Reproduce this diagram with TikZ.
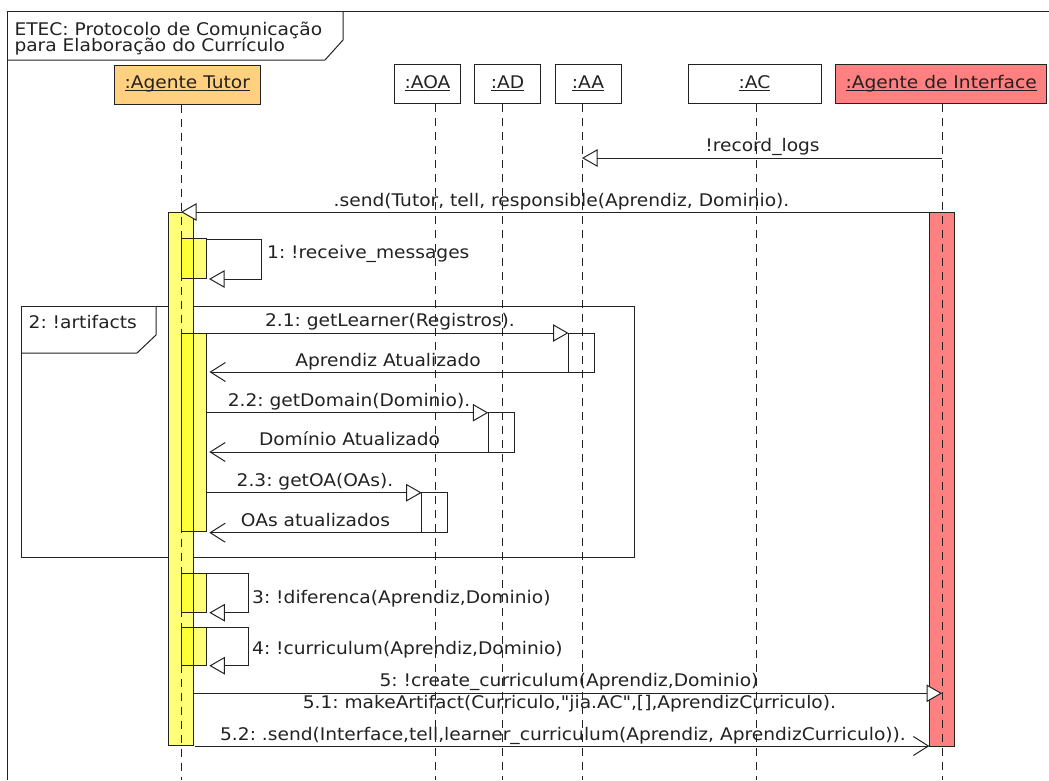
\documentclass[tikz,border=0pt]{standalone}
\usepackage{fontspec}
\setmainfont{DejaVu Sans}[FakeStretch=1.07]
\newfontfamily\plainf{DejaVu Sans}[FakeStretch=1.07]
\usetikzlibrary{arrows.meta}
\definecolor{tutorhead}{HTML}{FFD080}
\definecolor{ifhead}{HTML}{FF8080}
\definecolor{yelA}{HTML}{FFFF78}
\definecolor{yelB}{HTML}{FFFF38}
\definecolor{ink}{HTML}{222222}
\newcommand{\fsz}{\fontsize{17.4}{16.7}\selectfont}
\newcommand{\ulx}[1]{\setbox0\hbox{#1}\rlap{\rule[-2.8pt]{\wd0}{0.9pt}}\box0}
\frenchspacing
\tikzset{
  head/.style={draw, line width=1pt, minimum height=39pt, inner sep=0pt, text height=13pt, text depth=5pt, font=\fsz},
  lbl/.style={inner sep=0pt, anchor=base, font=\fsz},
  lblw/.style={lbl, anchor=base west},
  life/.style={dash pattern=on 8pt off 6pt, line width=1pt},
  sync/.style={-{Triangle[open, length=15.5pt, width=17.5pt, fill=white]}},
  ret/.style={-{Straight Barb[length=15pt, width=19pt]}},
  actwhite/.style={draw, fill=white},
}
\begin{document}
\frenchspacing
\begin{tikzpicture}[x=1pt, y=-1pt, line width=1pt, color=ink]
\useasboundingbox (0,0) rectangle (1049,780);
% outer frame and title
\draw (7,780) -- (7,11) -- (1049,11);
\draw (343,11) -- (343,40) -- (325,60) -- (7,60);
\node[lblw] (title1) at (14,35) {ETEC: Protocolo de Comunicação};
\node[lblw] (title2) at (14,51.7) {para Elaboração do Currículo};
% headers
\node[head, fill=tutorhead, minimum width=146pt] (hT) at (187.3,84.5) {\ulx{:Agente Tutor}};
\node[head, minimum width=66pt] (hAOA) at (427.5,84) {\ulx{:AOA}};
\node[head, minimum width=66pt] (hAD) at (507.5,84) {\ulx{:AD}};
\node[head, minimum width=66pt] (hAA) at (588,84) {\ulx{:AA}};
\node[head, minimum width=133pt] (hAC) at (754.5,84) {\ulx{:AC}};
\node[head, fill=ifhead, minimum width=211pt] (hI) at (941.2,84) {\ulx{:Agente de Interface}};
% fragment
\draw (21,306) rectangle (634,557);
\draw (156,306) -- (156,335) -- (137,353) -- (21,353);
\node[lblw] (fraglbl) at (28.2,328) {2: !artifacts};
% activations (tutor)
\fill[yelA] (168,212) rectangle (193,745);
\foreach \ya/\yb in {238.5/278.5, 333/531, 573.5/612, 627/665}{
  \fill[yelA] (181.5,\ya) rectangle (206.5,\yb);
  \fill[yelB] (181.5,\ya) rectangle (193,\yb);
}
\draw (168,212) rectangle (193,745);
\foreach \ya/\yb in {238.5/278.5, 333/531, 573.5/612, 627/665}{
  \draw (181.5,\ya) rectangle (206.5,\yb);
}
% other activations
\draw[actwhite] (568.5,333) rectangle (594,372);
\draw[actwhite] (488.3,412.7) rectangle (514,452);
\draw[actwhite] (421.7,492.7) rectangle (447.3,532);
\draw[fill=ifhead] (929.5,212) rectangle (954.5,746);
% lifelines
\coordinate (lT) at (181,780);
\coordinate (lAOA) at (435,780);
\coordinate (lAD) at (502,780);
\coordinate (lAA) at (582,780);
\coordinate (lAC) at (756,780);
\coordinate (lI) at (942,780);
\draw[life] (hT.south -| lT) -- (lT);
\draw[life] (hAOA.south -| lAOA) -- (lAOA);
\draw[life] (hAD.south -| lAD) -- (lAD);
\draw[life] (hAA.south -| lAA) -- (lAA);
\draw[life] (hAC.south -| lAC) -- (lAC);
\draw[life] (hI.south -| lI) -- (lI);
% message endpoints
\coordinate (rlS) at (942,158);   \coordinate (rlE) at (582,158);
\coordinate (sdS) at (929.5,212); \coordinate (sdE) at (181,212);
\coordinate (s1a) at (206.5,239); \coordinate (s1b) at (261.7,239); \coordinate (s1c) at (261.7,279); \coordinate (s1d) at (209,279);
\coordinate (m21S) at (193,333);  \coordinate (m21E) at (568.5,333);
\coordinate (r21S) at (568.5,372); \coordinate (r21E) at (209.5,372);
\coordinate (m22S) at (206.5,412.7); \coordinate (m22E) at (488.3,412.7);
\coordinate (r22S) at (488.3,452); \coordinate (r22E) at (209.3,452);
\coordinate (m23S) at (206.5,492.7); \coordinate (m23E) at (421.7,492.7);
\coordinate (r23S) at (421.7,532.7); \coordinate (r23E) at (209.3,532.7);
\coordinate (s3a) at (206.5,573.5); \coordinate (s3b) at (248.3,573.5); \coordinate (s3c) at (248.3,612.7); \coordinate (s3d) at (209.3,612.7);
\coordinate (s4a) at (206.5,627); \coordinate (s4b) at (248.3,627); \coordinate (s4c) at (248.3,665.7); \coordinate (s4d) at (209.3,665.7);
\coordinate (m5S) at (193.4,693.3); \coordinate (m5E) at (942,693.3);
\coordinate (m52S) at (194.5,746); \coordinate (m52E) at (929.3,746);
% messages
\draw[sync] (rlS) -- (rlE);
\node[lbl] (rllbl) at (762.5,151.5) {!record\_logs};
\draw[sync] (sdS) -- (sdE);
\node[lbl] (sdlbl) at (561.5,206) {.send(Tutor, tell, responsible(Aprendiz, Dominio).};
\draw[sync] (s1a) -- (s1b) -- (s1c) -- (s1d);
\node[lblw] (s1lbl) at (266.7,258) {1: !receive\_messages};
\draw[sync] (m21S) -- (m21E);
\node[lbl] (m21lbl) at (390,326.5) {2.1: getLearner(Registros).};
\draw[ret] (r21S) -- (r21E);
\node[lbl] (r21lbl) at (388,366) {Aprendiz Atualizado};
\draw[sync] (m22S) -- (m22E);
\node[lbl] (m22lbl) at (349,406.5) {2.2: getDomain(Dominio).};
\draw[ret] (r22S) -- (r22E);
\node[lbl] (r22lbl) at (349.5,445.5) {Domínio Atualizado};
\draw[sync] (m23S) -- (m23E);
\node[lbl] (m23lbl) at (315,486.5) {2.3: getOA(OAs).};
\draw[ret] (r23S) -- (r23E);
\node[lbl] (r23lbl) at (315.5,526.5) {OAs atualizados};
\draw[sync] (s3a) -- (s3b) -- (s3c) -- (s3d);
\node[lblw] (s3lbl) at (251.7,603.3) {3: !diferenca(Aprendiz,Dominio)};
\draw[sync] (s4a) -- (s4b) -- (s4c) -- (s4d);
\node[lblw] (s4lbl) at (251.7,654.3) {4: !curriculum(Aprendiz,Dominio)};
\draw[sync] (m5S) -- (m5E);
\node[lbl] (m5lbl) at (569,686.5) {5: !create\_curriculum(Aprendiz,Dominio)};
\node[lbl] (m51lbl) at (569.4,708.3) {\plainf 5.1: makeArtifact(Curriculo,"jia.AC",[],AprendizCurriculo).};
\draw[ret] (m52S) -- (m52E);
\node[lbl] (m52lbl) at (563,740) {5.2: .send(Interface,tell,learner\_curriculum(Aprendiz, AprendizCurriculo)).};
\end{tikzpicture}
\end{document}
